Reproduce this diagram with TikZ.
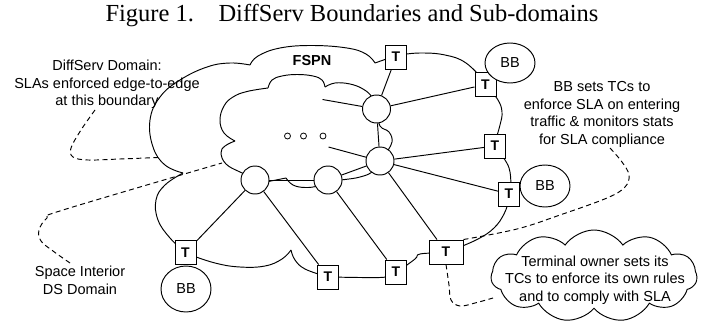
\documentclass[tikz,border=0pt]{standalone}
\usepackage{fontspec}
\setmainfont{Liberation Serif}
\setsansfont{Liberation Sans}
\usetikzlibrary{shapes.geometric,shapes.symbols}
\begin{document}
\begin{tikzpicture}[x=1pt,y=-1pt,line width=0.95pt,
  lab/.style={font=\sffamily\fontsize{14.5}{17.5}\selectfont,align=center,inner sep=0pt},
  tbox/.style={draw,fill=white,minimum width=21pt,minimum height=24pt,inner sep=0pt,font=\sffamily\bfseries\fontsize{14}{14}\selectfont},
  rtr/.style={circle,draw,fill=white,minimum size=28pt,inner sep=0pt},
  bbnode/.style={ellipse,draw,fill=white,minimum width=50pt,minimum height=42pt,inner sep=0pt,font=\sffamily\fontsize{14.5}{14.5}\selectfont},
  dotnode/.style={circle,draw,minimum size=6pt,inner sep=0pt,line width=0.8pt},
  lead/.style={dash pattern=on 5pt off 3.5pt},
  cl/.style={smooth,tension=0.7}]
\useasboundingbox (0,0) rectangle (706,321);

% caption
\node[font=\fontsize{24.5}{24.5}\selectfont,inner sep=0pt,anchor=base] (cap) at (352,22) {Figure 1.\hspace{1em}DiffServ Boundaries and Sub-domains};

% outer cloud (FSPN domain boundary)
\draw plot[cl] coordinates {(250,65) (258,56) (280,48) (312,45.5) (347,48) (366,54) (375,63)};
\draw (375,63) -- (392,57);
\draw plot[cl] coordinates {(400,55) (420,53) (445,55) (466,63) (485,82)};
\draw plot[cl] coordinates {(488,88) (498,100) (502,112) (500,125) (495,142)};
\draw plot[cl] coordinates {(497,150) (505,160) (510,172) (511,192)};
\draw plot[cl] coordinates {(509,200) (504,214) (494,228) (478,239) (455,249)};
\draw plot[cl] coordinates {(440,253) (420,254) (415,259) (400,270)};
\draw plot[cl] coordinates {(396,276) (380,277.5) (360,277.5) (330,277)};
\draw plot[cl] coordinates {(325,276) (305,269) (295,260) (291,250)};
\draw plot[cl] coordinates {(291,250) (282,259) (265,266) (240,267) (215,263) (188,254)};
\draw plot[cl] coordinates {(185,252) (170,238) (158,220) (156,200) (165,185) (183,173)};
\draw plot[cl] coordinates {(183,173) (165,165) (153,147) (150,120) (160,97) (180,80) (207,67) (230,63) (250,65)};

% inner cloud (space interior DS domain)
\draw plot[cl] coordinates {(235,141) (224,133) (220,120) (224,106) (233,97) (247,91.5) (268,88)};
\draw plot[cl] coordinates {(268,88) (272,80) (282,76) (297,74.5) (313,76) (322,80) (325,87)};
\draw plot[cl] coordinates {(325,87) (335,83) (350,84) (363,89) (372,97) (377,108)};
\draw plot[cl] coordinates {(377,112) (380,126) (389,132) (392,142) (386,153)};
\draw plot[cl] coordinates {(380,162) (372,172) (360,177) (345,179.5) (330,181)};
\draw plot[cl] coordinates {(328,182) (318,186) (305,187.5) (293,185) (286,178)};
\draw (286,178) -- (256,184);
\draw plot[cl] coordinates {(255,178) (240,172) (226,164) (221,153) (225,146) (235,141)};

% terminal owner cloud
\node[cloud,draw,cloud puffs=11,cloud puff arc=110,aspect=2.3,minimum width=206pt,minimum height=92pt,inner sep=0pt] (tcloud) at (594,276) {};

% routers
\node[rtr] (r1) at (376.5,109) {};
\node[rtr] (r2) at (380,161) {};
\node[rtr] (r3) at (255,180) {};
\node[rtr] (r4) at (328,180) {};
\node[dotnode] (d1) at (287.5,136) {};
\node[dotnode] (d2) at (303.5,136) {};
\node[dotnode] (d3) at (323,136) {};

% terminals
\node[tbox] (t1) at (396,57) {T};
\node[tbox] (t2) at (485.5,84.5) {T};
\node[tbox] (t3) at (495,146) {T};
\node[tbox] (t4) at (509,194) {T};
\node[tbox,minimum width=34pt] (t5) at (446,252) {T};
\node[tbox] (t6) at (396,272) {T};
\node[tbox] (t7) at (328,277) {T};
\node[tbox] (t8) at (185.5,252.5) {T};

% bandwidth brokers
\node[bbnode,minimum height=40pt] (bb1) at (510,63) {BB};
\node[bbnode] (bb2) at (545,186) {BB};
\node[bbnode,minimum height=46pt] (bb3) at (186,289) {BB};

% interior end points
\coordinate (i1) at (322.5,99.5);
\coordinate (i2) at (328.5,147);

% links
\draw (r1) -- (t1);
\draw (r1) -- (t2);
\draw (i1) -- (r1);
\draw (i2) -- (r2);
\draw (r1) -- (r2);
\draw (r2) -- (t3);
\draw (r2) -- (t4);
\draw (r2) -- (t5);
\draw (r2) -- (r4);
\draw (r4) -- (r3);
\draw (r4) -- (t6);
\draw (r3) -- (t7);
\draw (r3) -- (t8);

% labels
\node[font=\sffamily\bfseries\fontsize{14.5}{14.5}\selectfont,inner sep=0pt] (fspn) at (312,61) {FSPN};
\node[lab] (lds) at (107,84.5) {DiffServ Domain:\\SLAs enforced edge-to-edge\\at this boundary};
\node[lab] (lbb) at (602,114.5) {BB sets TCs to\\enforce SLA on entering\\traffic \& monitors stats\\for SLA compliance};
\node[lab] (lsi) at (80,280.5) {Space Interior\\DS Domain};
\node[lab] (lto) at (595,280) {Terminal owner sets its\\TCs to enforce its own rules\\and to comply with SLA};

% leaders
\coordinate (a1) at (95,110);
\coordinate (a2) at (158,157.5);
\draw[lead] plot[smooth,tension=0.6] coordinates {(a1) (81,130) (71,148) (73,157) (88,160) (120,159) (a2)};
\coordinate (b1) at (70,263);
\coordinate (b2) at (222,163);
\draw[lead] plot[smooth,tension=0.6] coordinates {(b1) (53,251) (41,241) (39,230) (47,218) (63,210) (b2)};
\coordinate (c1) at (610,148);
\draw[lead] plot[smooth,tension=0.6] coordinates {(c1) (622,162) (629,175) (625,187) (607,198) (560,215) (517,229) (t5.north east)};
\coordinate (e2) at (493,298);
\draw[lead] plot[smooth,tension=0.6] coordinates {(t5.south) (449,285) (451,300) (460,306) (475,303) (e2)};
\end{tikzpicture}
\end{document}
